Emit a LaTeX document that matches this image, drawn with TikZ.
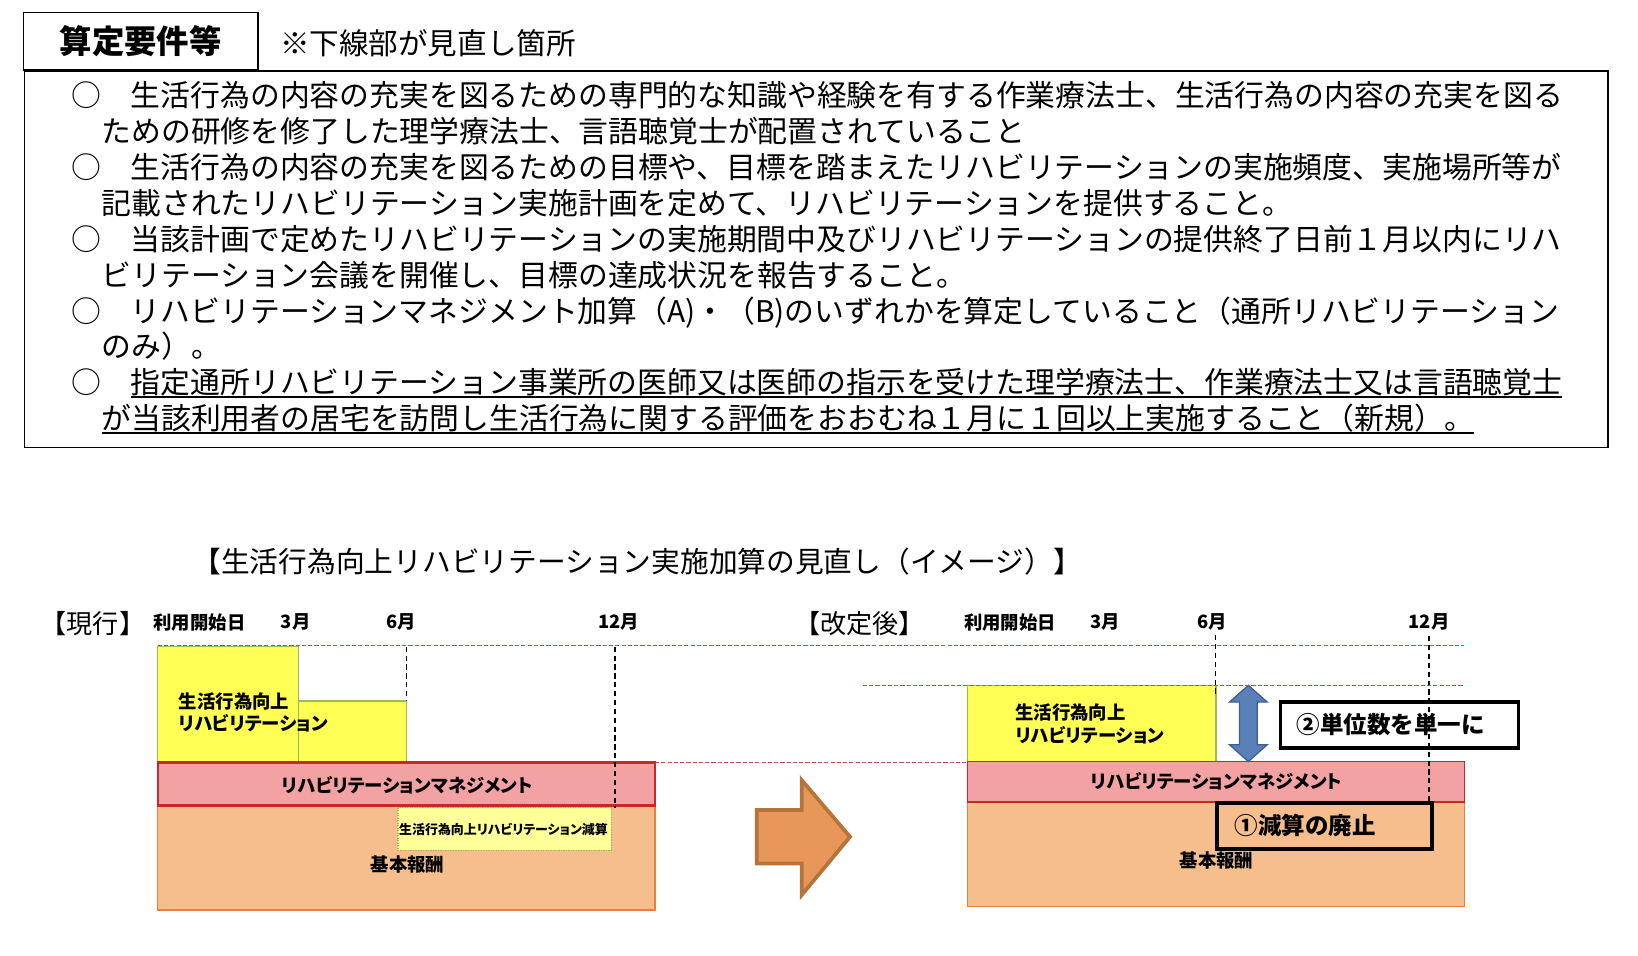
\documentclass[tikz,border=0pt]{standalone}
\usepackage{fontspec}
\usepackage{tikz}
\usetikzlibrary{positioning,calc}
\newfontfamily\jp{Noto Sans CJK JP}
\newfontfamily\jpp[RawFeature=+palt]{Noto Sans CJK JP}
\newcommand{\lineunder}[1]{\setbox0\hbox{#1}\rlap{\vrule height -2.4pt depth 4.2pt width \wd0}\box0}
\definecolor{hiyellow}{RGB}{255,255,85}
\definecolor{olive}{RGB}{155,187,89}
\definecolor{mgmtpink}{RGB}{242,162,162}
\definecolor{mgmtred}{RGB}{200,40,42}
\definecolor{baseorange}{RGB}{245,190,140}
\definecolor{baseedge}{RGB}{230,130,62}
\definecolor{paleyellow}{RGB}{255,255,153}
\definecolor{guidered}{RGB}{192,80,77}
\definecolor{arrowfill}{RGB}{232,150,90}
\definecolor{arrowedge}{RGB}{180,116,58}
\definecolor{steelfill}{RGB}{91,128,185}
\definecolor{steeledge}{RGB}{62,94,140}

\begin{document}
\begin{tikzpicture}[x=1pt,y=-1pt,
    body/.style={anchor=base west,inner sep=0pt,font=\jp\fontsize{28.56pt}{34pt}\selectfont},
    mon/.style={inner sep=0pt,font=\jpp\bfseries\fontsize{17.6pt}{20pt}\selectfont},
    lbl/.style={inner sep=0pt,font=\jpp\bfseries\fontsize{17.6pt}{21.5pt}\selectfont},
    yel/.style={fill=hiyellow,draw=olive,line width=1.2pt},
    mgmt/.style={fill=mgmtpink,draw=mgmtred,line width=2.2pt},
    base/.style={fill=baseorange,draw=baseedge,line width=1.2pt},
    guide/.style={guidered,line width=1.3pt,dash pattern=on 4pt off 2pt},
    month/.style={black,line width=1.6pt,dash pattern=on 5pt off 3.5pt},
    callout/.style={draw=black,line width=3.5pt,align=left,minimum height=44pt,font=\jp\bfseries\fontsize{22.5pt}{26pt}\selectfont}]
    \useasboundingbox (0,0) rectangle (1568,915);

    \node[draw,line width=1.8pt,minimum width=224.5pt,minimum height=55pt,font=\jp\bfseries\fontsize{31pt}{36pt}\selectfont] (head) at (134.75,39.5) {算定要件等};
    \node[body,font=\jp\fontsize{28.3pt}{34pt}\selectfont] (note) at (268,52.3) {※下線部が見直し箇所};
    \node[draw,line width=1.6pt,anchor=north west,minimum width=1516pt,minimum height=360.6pt] (req) at (22.5,67) {};

    \foreach \x/\t [count=\i] in {
        {68/○　生活行為の内容の充実を図るための専門的な知識や経験を有する作業療法士、生活行為の内容の充実を図る},
        {97/ための研修を修了した理学療法士、言語聴覚士が配置されていること},
        {68/○　生活行為の内容の充実を図るための目標や、目標を踏まえたリハビリテーションの実施頻度、実施場所等が},
        {97/記載されたリハビリテーション実施計画を定めて、リハビリテーションを提供すること。},
        {68/○　当該計画で定めたリハビリテーションの実施期間中及びリハビリテーションの提供終了日前１月以内にリハ},
        {97/ビリテーション会議を開催し、目標の達成状況を報告すること。},
        {68/○　リハビリテーションマネジメント加算（A)・（B)のいずれかを算定していること（通所リハビリテーション},
        {97/のみ）。},
        {68/○　\lineunder{指定通所リハビリテーション事業所の医師又は医師の指示を受けた理学療法士、作業療法士又は言語聴覚士}},
        {97/\lineunder{が当該利用者の居宅を訪問し生活行為に関する評価をおおむね１月に１回以上実施すること（新規）。}}} {
        \node[body] (ln\i) at (\x,{101.9+(\i-1)*34.39}) {\t};
    }

    \node[inner sep=0pt,font=\jp\fontsize{27.5pt}{32pt}\selectfont] (title) at (610,537.7) {【生活行為向上リハビリテーション実施加算の見直し（イメージ）】};
    \node[inner sep=0pt,font=\jp\fontsize{25pt}{28pt}\selectfont] (cur) at (89,596.5) {【現行】};
    \node[inner sep=0pt,font=\jp\fontsize{25pt}{28pt}\selectfont] (rev) at (823,596.5) {【改定後】};
    \foreach \x/\t/\n in {191/利用開始日/a0, 283/3月/a3, 384/6月/a6, 592/12月/a12, 967/利用開始日/b0, 1058/3月/b3, 1160/6月/b6, 1368/12月/b12}
        \node[mon] (\n) at (\x,595.5) {\t};

    % current
    \draw[yel] (151,619) rectangle (286,730);
    \draw[yel] (286,671) rectangle (389,730);
    \draw[base] (151,771) rectangle (627,871);
    \draw[mgmt] (151,730) rectangle (627,771);
    \draw[fill=paleyellow,draw=olive,line width=1pt,dash pattern=on 1.2pt off 1.2pt] (381,773) rectangle (585,814);
    \node[lbl,align=left,anchor=west] (actL) at (171,682) {生活行為向上\\リハビリテーション};
    \node[lbl] (mgmtL) at (390,751.5) {リハビリテーションマネジメント};
    \node[inner sep=0pt,font=\jpp\bfseries\fontsize{12.4pt}{14pt}\selectfont] (cutL) at (482,793.6) {生活行為向上リハビリテーション減算};
    \node[lbl] (baseL) at (390,828) {基本報酬};
    \draw[month] (389,619) -- (389,671);
    \draw[month] (589,619) -- (589,773);

    \draw[line width=3.6pt,draw=arrowedge,fill=arrowfill,miter limit=10] (724.4,775.4) -- (767.4,775.4) -- (767.4,746.7) -- (813.7,801) -- (767.4,856.8) -- (767.4,826.5) -- (724.4,826.5) -- cycle;

    % revised
    \draw[yel] (926,656) rectangle (1164,729);
    \draw[base] (926,768) rectangle (1402,868);
    \draw[mgmt,line width=1.6pt] (926,729) rectangle (1402,768);
    \node[lbl,align=left,anchor=west] (actR) at (971.7,692.8) {生活行為向上\\リハビリテーション};
    \node[lbl] (mgmtR) at (1164.5,748) {リハビリテーションマネジメント};
    \node[lbl] (baseR) at (1164.5,823.3) {基本報酬};
    \node[callout,fill=white,anchor=west,inner xsep=15.7pt,text width=196.6pt] (single) at (1224,694) {②単位数を単一に};
    \draw[month] (1163.5,608) -- (1163.5,665);
    \draw[month] (1368,609) -- (1368,768);
    \node[callout,anchor=west,inner xsep=17pt,text width=172pt] (abolish) at (1163,790.5) {①減算の廃止};
    \draw[fill=steelfill,draw=steeledge,line width=1.2pt] (1195,656) -- (1213,672) -- (1203.5,672) -- (1203.5,713) -- (1213,713) -- (1195,729) -- (1177,713) -- (1186.5,713) -- (1186.5,672) -- (1177,672) -- cycle;

    \draw[guide] (151,618) -- (1401,618);
    \draw[guide] (826,656) -- (1401,656);
    \draw[guide] (627,730) -- (926,730);
\end{tikzpicture}
\end{document}
